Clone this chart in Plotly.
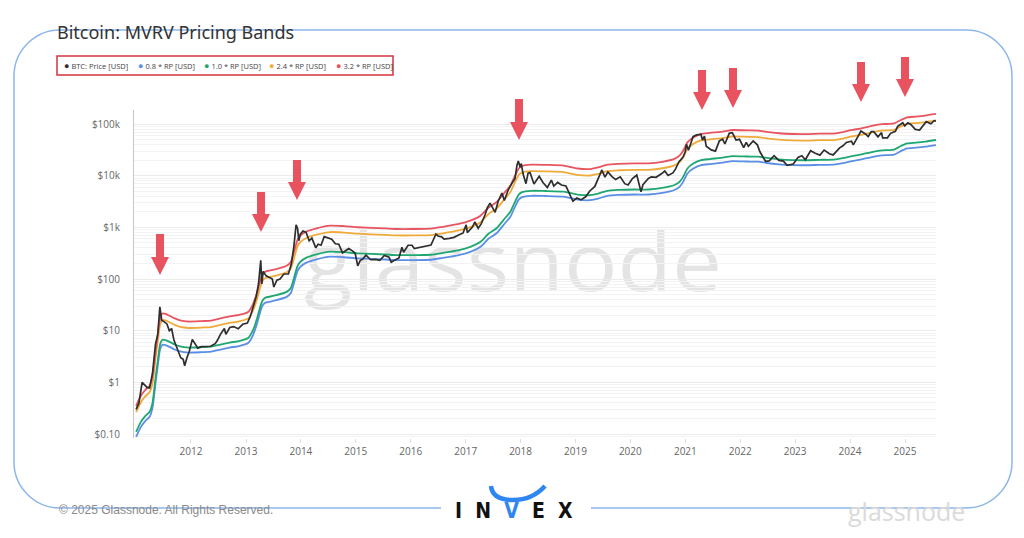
import base64
import plotly.graph_objects as go

# ---------------- data ----------------
price_dates = [
    "2011-01-01", "2011-01-20", "2011-02-10", "2011-02-25", "2011-03-15", "2011-04-01", "2011-04-20",
    "2011-05-10", "2011-05-25", "2011-06-08", "2011-06-20", "2011-07-05", "2011-07-25", "2011-08-10",
    "2011-08-25", "2011-09-10", "2011-09-25", "2011-10-10", "2011-10-25", "2011-11-10", "2011-11-20",
    "2011-12-05", "2011-12-20",
    "2012-01-10", "2012-01-25", "2012-02-15", "2012-03-10", "2012-04-10", "2012-05-10", "2012-06-10",
    "2012-06-25", "2012-07-15", "2012-08-10", "2012-08-20", "2012-09-15", "2012-10-10", "2012-11-10",
    "2012-12-10",
    "2013-01-10", "2013-01-30", "2013-02-20", "2013-03-10", "2013-03-25", "2013-04-09", "2013-04-16",
    "2013-04-25", "2013-05-15", "2013-06-10", "2013-06-25", "2013-07-05", "2013-07-25", "2013-08-15",
    "2013-09-10", "2013-10-10", "2013-10-30", "2013-11-15", "2013-11-30", "2013-12-10", "2013-12-18",
    "2013-12-28",
    "2014-01-15", "2014-02-05", "2014-02-25", "2014-03-15", "2014-04-10", "2014-04-25", "2014-05-15",
    "2014-06-05", "2014-07-01", "2014-07-25", "2014-08-18", "2014-09-10", "2014-10-05", "2014-10-25",
    "2014-11-15", "2014-12-10", "2014-12-28",
    "2015-01-14", "2015-01-31", "2015-02-15", "2015-03-10", "2015-04-10", "2015-05-10", "2015-06-10",
    "2015-07-10", "2015-08-10", "2015-08-25", "2015-09-15", "2015-10-15", "2015-11-04", "2015-11-15",
    "2015-12-15",
    "2016-01-10", "2016-01-25", "2016-02-15", "2016-03-15", "2016-04-15", "2016-05-15", "2016-06-17",
    "2016-07-01", "2016-07-25", "2016-08-10", "2016-09-15", "2016-10-15", "2016-11-15", "2016-12-15",
    "2017-01-04", "2017-01-12", "2017-02-15", "2017-03-03", "2017-03-25", "2017-04-15", "2017-05-10",
    "2017-05-25", "2017-06-12", "2017-07-16", "2017-08-05", "2017-08-30", "2017-09-15", "2017-10-12",
    "2017-11-08", "2017-11-25", "2017-12-08", "2017-12-17", "2017-12-29",
    "2018-01-06", "2018-01-17", "2018-02-06", "2018-02-20", "2018-03-05", "2018-03-31", "2018-04-15",
    "2018-05-05", "2018-05-30", "2018-06-28", "2018-07-25", "2018-08-10", "2018-09-05", "2018-09-30",
    "2018-10-30", "2018-11-20", "2018-12-15",
    "2019-01-10", "2019-02-07", "2019-03-10", "2019-04-05", "2019-05-10", "2019-05-30", "2019-06-26",
    "2019-07-16", "2019-08-05", "2019-09-01", "2019-09-25", "2019-10-26", "2019-11-25", "2019-12-17",
    "2020-01-15", "2020-02-13", "2020-03-12", "2020-03-25", "2020-04-30", "2020-05-20", "2020-06-20",
    "2020-07-28", "2020-08-17", "2020-09-08", "2020-10-10", "2020-10-28", "2020-11-20", "2020-12-17",
    "2020-12-31",
    "2021-01-08", "2021-01-22", "2021-02-21", "2021-03-13", "2021-04-14", "2021-04-25", "2021-05-08",
    "2021-05-20", "2021-06-22", "2021-07-20", "2021-08-15", "2021-09-06", "2021-09-21", "2021-10-20",
    "2021-11-09", "2021-12-04", "2021-12-27",
    "2022-01-24", "2022-02-10", "2022-02-24", "2022-03-28", "2022-04-25", "2022-05-12", "2022-06-18",
    "2022-07-13", "2022-08-14", "2022-09-15", "2022-10-15", "2022-11-09", "2022-12-20",
    "2023-01-20", "2023-02-15", "2023-03-10", "2023-04-14", "2023-05-15", "2023-06-15", "2023-07-13",
    "2023-08-17", "2023-09-11", "2023-10-24", "2023-11-15", "2023-12-08",
    "2024-01-11", "2024-01-23", "2024-02-15", "2024-03-14", "2024-04-15", "2024-05-01", "2024-05-21",
    "2024-06-07", "2024-07-05", "2024-07-29", "2024-08-05", "2024-09-06", "2024-09-27", "2024-10-29",
    "2024-11-13", "2024-12-17", "2024-12-30",
    "2025-01-20", "2025-02-10", "2025-02-28", "2025-03-10", "2025-04-08", "2025-05-05", "2025-05-22",
    "2025-06-22", "2025-07-14", "2025-07-26",
]
price_values = [
    0.30, 0.40, 1.00, 0.90, 0.80, 0.78, 1.5,
    5.5, 8.5, 29.0, 16.0, 15.0, 13.5, 10.0,
    11.0, 6.5, 5.0, 4.0, 3.0, 2.8, 2.1,
    3.0, 3.9,
    6.8, 5.8, 4.6, 4.9, 4.9, 5.0, 5.6,
    6.5, 8.5, 11.0, 8.5, 11.5, 12.0, 10.9,
    13.3,
    14.0, 19.0, 29.0, 46.0, 80.0, 230.0, 80.0,
    140.0, 115.0, 105.0, 100.0, 70.0, 95.0, 100.0,
    125.0, 125.0, 200.0, 420.0, 1120.0, 950.0, 550.0,
    740.0,
    850, 800, 550, 620, 400, 470, 450,
    660, 630, 590, 480, 470, 320, 360,
    390, 350, 315,
    180, 230, 240, 290, 236, 240, 230,
    285, 265, 210, 230, 255, 410, 330,
    450,
    450, 390, 400, 415, 430, 455, 740,
    680, 655, 590, 610, 640, 710, 780,
    1120, 790, 1010, 1270, 960, 1180, 1750,
    2400, 2950, 1950, 3200, 4600, 3300, 5400,
    7400, 8800, 16000, 19300, 14500,
    17100, 11000, 7000, 11200, 11500, 6900, 8000,
    9700, 7400, 5900, 8200, 6300, 7400, 6600,
    6300, 4500, 3200,
    3700, 3400, 3900, 5000, 6200, 8600, 12900,
    9400, 11800, 9600, 8400, 9500, 7000, 6600,
    8800, 10300, 4900, 6700, 8800, 9500, 9300,
    11000, 12300, 10100, 11300, 13500, 18600, 23000,
    29000,
    40500, 31000, 57000, 61000, 63500, 49000, 58000,
    37000, 31500, 29800, 47000, 51000, 41000, 66000,
    68000, 49000, 50500,
    35000, 44000, 37000, 47000, 39500, 29000, 19000,
    19300, 24300, 19700, 19100, 15900, 16800,
    22600, 24300, 20300, 30400, 27200, 25000, 31300,
    26600, 25200, 34500, 37800, 44000,
    46500, 39500, 52000, 73000, 63500, 57000, 71000,
    71000, 56500, 68000, 54000, 54000, 66000, 72000,
    90000, 106000, 92000,
    105000, 97000, 84000, 78500, 76500, 94500, 111000,
    101000, 116000, 114000,
]

rp_dates = [
    "2011-01-01", "2011-02-01", "2011-03-01", "2011-04-01", "2011-04-20", "2011-05-10", "2011-05-25",
    "2011-06-10", "2011-06-25", "2011-07-15", "2011-08-15", "2011-09-15", "2011-10-15", "2011-11-15",
    "2011-12-15", "2012-03-15", "2012-05-15", "2012-07-15", "2012-09-15", "2012-11-15", "2013-01-15",
    "2013-02-15", "2013-03-15", "2013-04-10", "2013-04-25", "2013-05-15", "2013-07-15", "2013-10-01",
    "2013-10-25", "2013-11-12", "2013-11-25", "2013-12-10", "2013-12-28", "2014-02-10", "2014-04-15",
    "2014-07-15", "2014-10-15", "2015-01-15", "2015-07-15", "2015-10-01", "2016-01-15", "2016-05-15",
    "2016-08-01", "2016-11-10", "2017-02-01", "2017-04-10", "2017-06-01", "2017-07-25", "2017-09-15",
    "2017-10-25", "2017-11-20", "2017-12-20", "2018-01-10", "2018-03-15", "2018-06-15", "2018-10-15",
    "2019-01-15", "2019-04-10", "2019-06-01", "2019-08-01", "2019-10-15", "2020-02-01", "2020-05-01",
    "2020-08-01", "2020-10-20", "2020-11-25", "2020-12-20", "2021-01-15", "2021-02-20", "2021-04-15",
    "2021-06-15", "2021-09-15", "2021-11-10", "2022-02-15", "2022-05-01", "2022-06-25", "2022-09-15",
    "2022-12-15", "2023-03-15", "2023-06-15", "2023-09-15", "2023-11-15", "2024-01-15", "2024-03-10",
    "2024-06-01", "2024-08-01", "2024-10-20", "2024-12-01", "2025-01-15", "2025-03-15", "2025-05-15",
    "2025-07-26",
]
rp_values = [
    0.11, 0.17, 0.22, 0.27, 0.40, 1.2, 2.6,
    5.5, 6.7, 6.6, 6.0, 5.4, 5.0, 4.8,
    4.7, 4.8, 4.9, 5.4, 5.9, 6.3, 7.2,
    10.0, 17.0, 32.0, 40.0, 44.0, 48.0, 57.0,
    66.0, 95.0, 130.0, 180.0, 215.0, 262.0, 300.0,
    338.0, 330.0, 314.0, 298.0, 290.0, 290.0, 295.0,
    320.0, 360.0, 420.0, 525.0, 750.0, 960.0, 1450.0,
    2000.0, 2900.0, 4300.0, 4800.0, 5100.0, 5050.0, 4900.0,
    4300.0, 4200.0, 4500.0, 5100.0, 5300.0, 5400.0, 5400.0,
    5800.0, 6600.0, 7700.0, 9800.0, 13800.0, 17000.0, 20000.0,
    21000.0, 22500.0, 23900.0, 23500.0, 23300.0, 22000.0, 20700.0,
    20000.0, 19900.0, 20300.0, 20400.0, 21800.0, 24000.0, 25500.0,
    29000.0, 31000.0, 32000.0, 37000.0, 42000.0, 43500.0, 45500.0,
    49000.0,
]

band_multipliers = [0.8, 1.0, 2.4, 3.2]
band_names = ["0.8 * RP [USD]", "1.0 * RP [USD]", "2.4 * RP [USD]", "3.2 * RP [USD]"]
price_name = "BTC: Price [USD]"

x_tick_vals = [f"{yr}-01-01" for yr in range(2012, 2026)]
y_tick_vals = [0.1, 1, 10, 100, 1000, 10000, 100000]
y_tick_text = ["$0.10", "$1", "$10", "$100", "$1k", "$10k", "$100k"]

# ---------------- styles ----------------
price_color = "#2e2e2e"
band_colors = ["#5b8fe6", "#1fa772", "#f0aa3a", "#e8545f"]
arrow_color = "#e9535f"
frame_color = "#8db7ea"

W_FIG, H_FIG = 1024, 538
L, T, R, B = 134, 110, 936, 438
PW, PH = R - L, B - T


def px(x):
    return (x - L) / PW


def py(y):
    return (B - y) / PH


fig = go.Figure()

for mult, name, color in zip(band_multipliers, band_names, band_colors):
    fig.add_trace(go.Scatter(
        x=rp_dates, y=[mult * v for v in rp_values], name=name, mode="lines",
        line=dict(color=color, width=1.8, shape="spline", smoothing=0.6),
        showlegend=False,
    ))

fig.add_trace(go.Scatter(
    x=price_dates, y=price_values, name=price_name, mode="lines",
    line=dict(color=price_color, width=1.7), showlegend=False,
))

# minor grid values (style)
minor_vals = [k * 10 ** e for e in range(-2, 6) for k in range(2, 10)]

fig.update_layout(
    width=W_FIG, height=H_FIG,
    margin=dict(l=L, r=W_FIG - R, t=T, b=H_FIG - B, pad=0),
    paper_bgcolor="white", plot_bgcolor="rgba(0,0,0,0)",
    font=dict(family="Open Sans, sans-serif", color="#666666", size=10),
    title=dict(text="Bitcoin: MVRV Pricing Bands", x=57 / W_FIG, xanchor="left",
               y=1 - 33 / H_FIG, yanchor="middle", xref="container", yref="container",
               font=dict(size=18, color="#333333", family="Noto Sans, sans-serif")),
    xaxis=dict(
        type="date", range=["2010-12-18", "2025-07-26"],
        tickmode="array", tickvals=x_tick_vals, tickformat="%Y",
        showgrid=False, zeroline=False, showline=False,
        ticks="outside", ticklen=4, tickcolor="#dddddd",
        tickfont=dict(size=10, color="#666666"),
    ),
    yaxis=dict(
        type="log", range=[-1.077, 5.271],
        tickmode="array", tickvals=y_tick_vals, ticktext=y_tick_text,
        showgrid=True, gridcolor="#ebebeb", gridwidth=1,
        minor=dict(tickmode="array", tickvals=minor_vals, showgrid=True,
                   gridcolor="#f3f3f3", gridwidth=1, ticks=""),
        showline=True, linecolor="#c8c8c8", linewidth=1,
        zeroline=False, ticks="", ticklabelstandoff=11,
        tickfont=dict(size=10, color="#666666"),
    ),
)

shapes = []

# arrows (decorations): centre x, top y, tip y in pixels
arrows = [(160, 234, 275), (261, 192, 232), (297, 160, 200), (519, 99, 140),
          (702, 70, 110), (733, 68, 108), (861, 62, 102), (905, 57, 97)]
for cx, top, tip in arrows:
    hw, hh, sw = 9, 18, 4
    pts = [(cx - sw, top), (cx + sw, top), (cx + sw, tip - hh), (cx + hw, tip - hh),
           (cx, tip), (cx - hw, tip - hh), (cx - sw, tip - hh)]
    path = "M " + " L ".join(f"{px(a):.5f},{py(b):.5f}" for a, b in pts) + " Z"
    shapes.append(dict(type="path", xref="paper", yref="paper", path=path,
                       fillcolor=arrow_color, line=dict(width=0), layer="above"))

# rounded frame with gap at the bottom for the logo
fx0, fy0, fx1, fy1, rr = 14, 30, 1012, 508, 46
k = 0.45


def P(a, b):
    return f"{px(a):.5f},{py(b):.5f}"


frame = (
    f"M {P(441, fy1)} L {P(fx0 + rr, fy1)} "
    f"C {P(fx0 + rr * k, fy1)} {P(fx0, fy1 - rr * k)} {P(fx0, fy1 - rr)} "
    f"L {P(fx0, fy0 + rr)} "
    f"C {P(fx0, fy0 + rr * k)} {P(fx0 + rr * k, fy0)} {P(fx0 + rr, fy0)} "
    f"L {P(fx1 - rr, fy0)} "
    f"C {P(fx1 - rr * k, fy0)} {P(fx1, fy0 + rr * k)} {P(fx1, fy0 + rr)} "
    f"L {P(fx1, fy1 - rr)} "
    f"C {P(fx1, fy1 - rr * k)} {P(fx1 - rr * k, fy1)} {P(fx1 - rr, fy1)} "
    f"L {P(591, fy1)}"
)
shapes.append(dict(type="path", xref="paper", yref="paper", path=frame,
                   line=dict(color=frame_color, width=1.5), layer="below"))

# legend box
shapes.append(dict(type="rect", xref="paper", yref="paper",
                   x0=px(57), x1=px(393), y0=py(56), y1=py(75),
                   line=dict(color="#d6323e", width=1.5), fillcolor="rgba(0,0,0,0)"))

# INVEX horns
horn = (f"M {P(491, 486)} C {P(492, 496)} {P(500, 500)} {P(513, 500)} "
        f"C {P(526, 500)} {P(536, 496)} {P(545, 486)}")
shapes.append(dict(type="path", xref="paper", yref="paper", path=horn,
                   line=dict(color="#2f86f0", width=4.5)))

fig.update_layout(shapes=shapes)

annotations = []
legend_items = [(price_name, price_color, 62)] + [
    (n, c, x) for n, c, x in zip(band_names, band_colors, [136, 202, 267, 334])]
for name, color, x in legend_items:
    annotations.append(dict(
        xref="paper", yref="paper", x=px(x), y=py(65.5), xanchor="left", yanchor="middle",
        text=f"<span style='color:{color};font-size:9px'>●</span> {name}", showarrow=False,
        font=dict(size=7.5, color="#444444", family="Open Sans, sans-serif")))

annotations.append(dict(
    xref="paper", yref="paper", x=px(57), y=py(510), xanchor="left", yanchor="middle",
    text="© 2025 Glassnode. All Rights Reserved.", showarrow=False,
    font=dict(size=12, color="#8a8a8a", family="Liberation Sans, Arial, sans-serif")))

annotations.append(dict(
    xref="paper", yref="paper", x=px(906), y=py(511), xanchor="center", yanchor="middle",
    text="glassnode", showarrow=False,
    font=dict(size=25, color="#dadada", family="Open Sans, sans-serif")))

annotations.append(dict(
    xref="paper", yref="paper", x=px(514), y=py(511), xanchor="center", yanchor="middle",
    text="<b>I  N  <span style='color:#2f86f0'>V</span>  E  X</b>", showarrow=False,
    font=dict(size=21, color="#111111", family="DejaVu Sans Condensed, DejaVu Sans, sans-serif")))

fig.update_layout(annotations=annotations)

# watermark
svg = ("<svg xmlns='http://www.w3.org/2000/svg' width='430' height='100' viewBox='0 0 430 100'>"
       "<text x='4' y='66' font-family='Open Sans, sans-serif' font-size='80' font-weight='500' "
       "fill='#e4e4e4' textLength='418' lengthAdjust='spacingAndGlyphs'>glassnode</text></svg>")
src = "data:image/svg+xml;base64," + base64.b64encode(svg.encode()).decode()
fig.add_layout_image(dict(source=src, xref="paper", yref="paper", x=px(300), y=py(225),
                          sizex=430 / PW, sizey=100 / PH, xanchor="left", yanchor="top",
                          sizing="stretch", layer="below"))

fig.write_html("out.html", config={"displayModeBar": False},
               post_script="document.body.style.margin='0';")
